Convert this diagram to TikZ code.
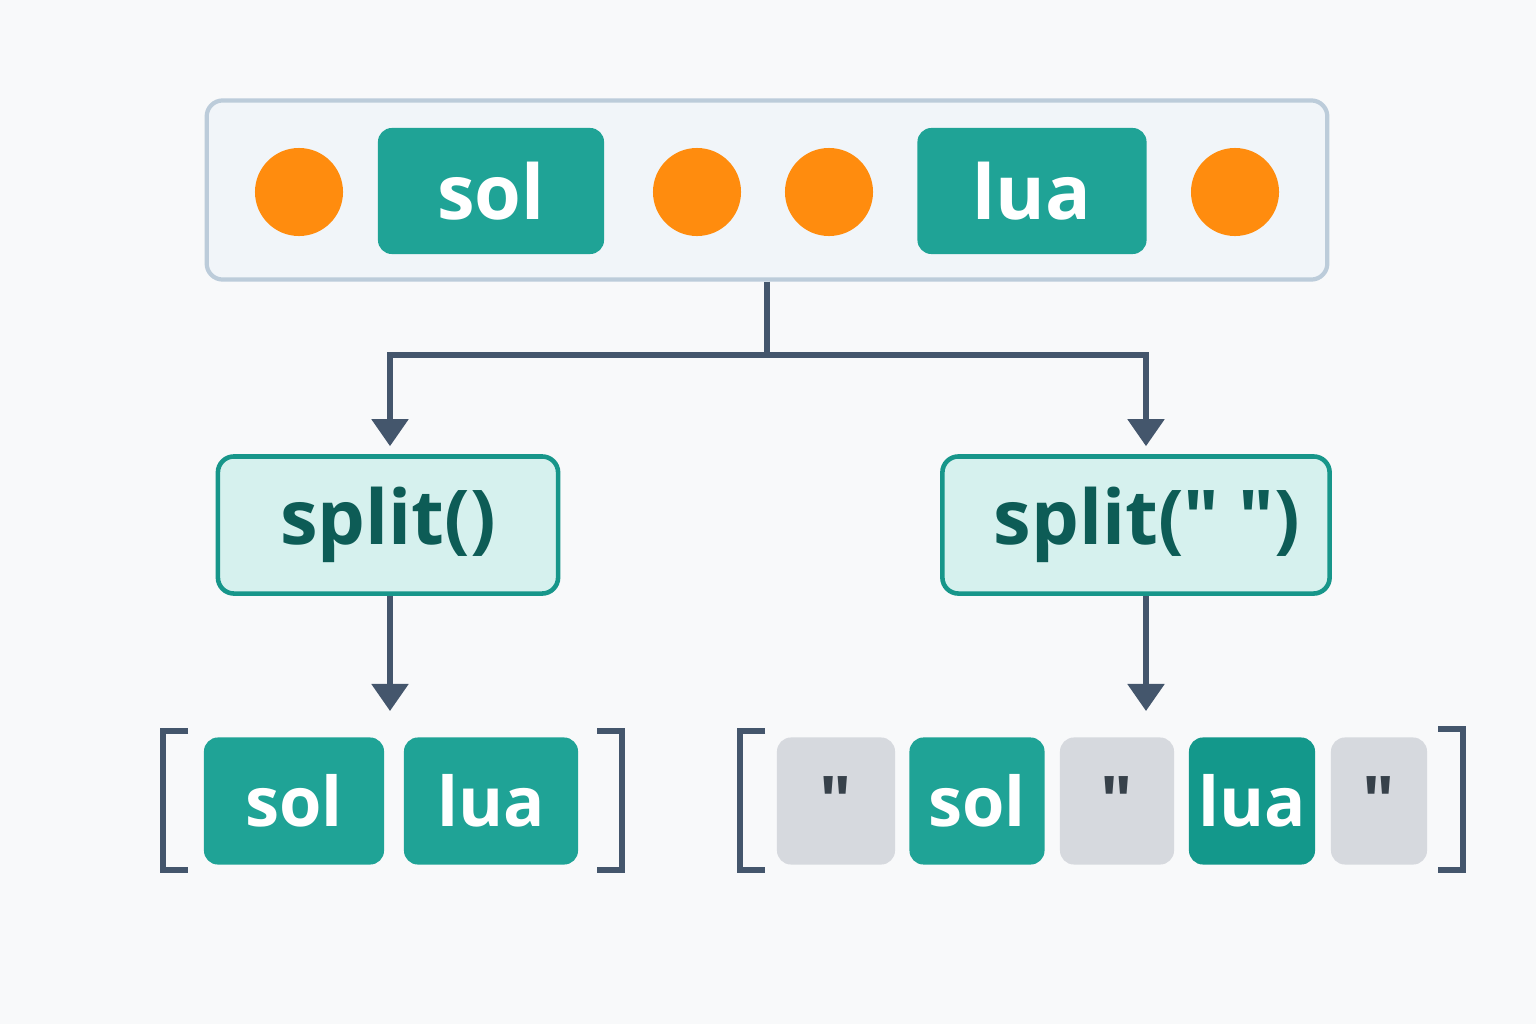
\documentclass[tikz,border=0pt]{standalone}
\usepackage{fontspec}
\setmainfont{Open Sans}[Ligatures=TeXOff]
\usetikzlibrary{positioning,arrows.meta}

\definecolor{bgcol}{HTML}{F8F9FA}
\definecolor{framecol}{HTML}{BCCCDA}
\definecolor{framefill}{HTML}{F1F5F9}
\definecolor{dotcol}{HTML}{FF8C0E}
\definecolor{wordcol}{HTML}{1FA396}
\definecolor{worddark}{HTML}{13988B}
\definecolor{funcfill}{HTML}{D6F1EE}
\definecolor{funcline}{HTML}{17968A}
\definecolor{functext}{HTML}{0D5C56}
\definecolor{linecol}{HTML}{44566C}
\definecolor{emptycol}{HTML}{D6D9DE}
\definecolor{quotecol}{HTML}{37414A}

\begin{document}
\begin{tikzpicture}[x=0.01cm, y=-0.01cm,
  word/.style={rectangle, rounded corners=0.14cm, fill=wordcol, text=white,
    font=\bfseries\fontsize{21.5}{21.5}\selectfont, minimum height=1.26cm, inner sep=0pt},
  small/.style={word, minimum height=1.27cm, font=\bfseries\fontsize{19.5}{19.5}\selectfont},
  empty/.style={small, fill=emptycol, text=quotecol},
  dot/.style={circle, fill=dotcol, inner sep=0pt, minimum size=0.88cm},
  func/.style={rectangle, rounded corners=0.16cm, draw=funcline, line width=1.3pt,
    fill=funcfill, text=functext, minimum height=1.37cm,
    font=\bfseries\fontsize{21.5}{21.5}\selectfont},
  link/.style={draw=linecol, line width=1.5pt},
  bracket/.style={draw=linecol, line width=1.9pt}]
  \useasboundingbox[fill=bgcol] (0,0) rectangle (1536,1024);

  % input string
  \node[rectangle, rounded corners=0.16cm, draw=framecol, line width=1.2pt, fill=framefill,
    minimum width=11.2cm, minimum height=1.79cm] (input) at (767,190) {};
  \node[dot] (d1) at (299,192) {};
  \node[word, minimum width=2.26cm] (sol) at (491,191) {sol};
  \node[dot] (d2) at (697,192) {};
  \node[dot] (d3) at (829,192) {};
  \node[word, minimum width=2.29cm] (lua) at (1032,191) {lua};
  \node[dot] (d4) at (1235,192) {};

  % the two calls
  \node[func, minimum width=3.4cm] (plain) at (388,525) {split()};
  \node[func, minimum width=3.87cm] (space) at (1136,525) {\hspace{0.22cm}split(" ")};
  \coordinate (fork) at (767,355);
  \draw[link] (input.south) -- (fork);
  \draw[link, -{Triangle[width=0.36cm, length=0.27cm]}, shorten >=0.08cm]
    (fork) -| (plain.north -| 390,0);
  \draw[link, -{Triangle[width=0.36cm, length=0.27cm]}, shorten >=0.08cm]
    (fork) -| (space.north -| 1146,0);

  % result of split()
  \node[small, minimum width=1.8cm] (solA) at (294,801) {sol};
  \node[small, minimum width=1.74cm] (luaA) at (491,801) {lua};
  \draw[link, -{Triangle[width=0.36cm, length=0.27cm]}]
    (plain.south -| 390,0) -- (390,711);
  \draw[bracket] (188,731) -- (163,731) -- (163,870) -- (188,870);
  \draw[bracket] (597,731) -- (622,731) -- (622,870) -- (597,870);

  % result of split(" ")
  \node[empty, minimum width=1.18cm] (e1) at (836,801) {"};
  \node[small, minimum width=1.35cm] (solB) at (977,801) {sol};
  \node[empty, minimum width=1.14cm] (e2) at (1117,801) {"};
  \node[small, fill=worddark, minimum width=1.26cm] (luaB) at (1252,801) {lua};
  \node[empty, minimum width=0.96cm] (e3) at (1379,801) {"};
  \draw[link, -{Triangle[width=0.36cm, length=0.27cm]}]
    (space.south -| 1146,0) -- (1146,711);
  \draw[bracket] (765,731) -- (740,731) -- (740,870) -- (765,870);
  \draw[bracket] (1438,729) -- (1463,729) -- (1463,870) -- (1438,870);
\end{tikzpicture}
\end{document}
